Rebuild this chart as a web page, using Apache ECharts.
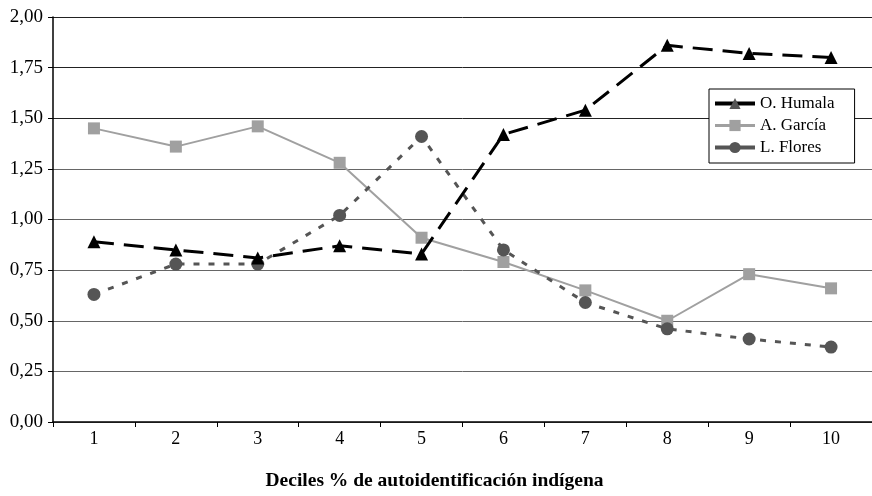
<!DOCTYPE html>
<html>
<head>
<meta charset="utf-8">
<script src="https://cdn.jsdelivr.net/npm/echarts@6/dist/echarts.min.js"></script>
<style>
html, body { margin: 0; padding: 0; background: #fff; }
#chart { width: 872px; height: 496px; }
</style>
</head>
<body>
<div id="chart"></div>
<script>
var deciles = ['1', '2', '3', '4', '5', '6', '7', '8', '9', '10'];
var humala = [0.89, 0.85, 0.81, 0.87, 0.83, 1.42, 1.54, 1.86, 1.82, 1.80];
var garcia = [1.45, 1.36, 1.46, 1.28, 0.91, 0.79, 0.65, 0.50, 0.73, 0.66];
var flores = [0.63, 0.78, 0.78, 1.02, 1.41, 0.85, 0.59, 0.46, 0.41, 0.37];

var serif = 'Liberation Serif';
var chart = echarts.init(document.getElementById('chart'));

var option = {
	backgroundColor : '#fff',
	animation : false,
	textStyle : { fontFamily : serif, color : '#000' },
	grid : {
		left : 53,
		top : 17,
		width : 826,
		height : 407
	},
	legend : {
		orient : 'vertical',
		left : 709,
		top : 89,
		backgroundColor : '#fff',
		borderColor : '#000',
		borderWidth : 1,
		borderRadius : 0,
		padding : [6, 20, 7, 4],
		itemGap : 5,
		itemWidth : 40,
		itemHeight : 14,
		textStyle : { fontFamily : serif, fontSize : 17, color : '#000' },
		data : [ {
			name : 'O. Humala',
			itemStyle : { color : '#555' },
			lineStyle : { color : '#000', width : 4, type : 'solid' }
		}, {
			name : 'A. García',
			lineStyle : { width : 3, type : 'solid' }
		}, {
			name : 'L. Flores',
			lineStyle : { width : 4, type : 'solid' }
		} ]
	},
	xAxis : {
		type : 'category',
		data : deciles,
		boundaryGap : true,
		name : 'Deciles % de autoidentificación indígena',
		nameLocation : 'middle',
		nameGap : 49,
		nameTextStyle : {
			fontFamily : serif,
			fontSize : 19.5,
			fontWeight : 'bold',
			color : '#000',
			padding : [0, 56, 0, 0]
		},
		axisLine : { lineStyle : { color : '#000', width : 1.5 } },
		axisTick : { show : true, length : 5, lineStyle : { color : '#000' } },
		axisLabel : { fontFamily : serif, fontSize : 18, color : '#000', margin : 8 },
		splitLine : { show : false }
	},
	yAxis : {
		type : 'value',
		min : 0,
		max : 2,
		interval : 0.25,
		axisLine : { show : true, lineStyle : { color : '#000', width : 1.5 } },
		axisTick : { show : true, length : 5, lineStyle : { color : '#000' } },
		axisLabel : {
			fontFamily : serif,
			fontSize : 19,
			color : '#000',
			margin : 10,
			formatter : function(v) {
				return v.toFixed(2).replace('.', ',');
			}
		},
		splitLine : {
			show : true,
			lineStyle : {
				color : ['#666', '#666', '#666', '#666', '#666', '#666', '#222', '#222', '#222'],
				width : 1
			}
		}
	},
	series : [ {
		name : 'O. Humala',
		type : 'line',
		data : humala,
		z : 4,
		symbol : 'triangle',
		symbolSize : 13,
		itemStyle : { color : '#000' },
		lineStyle : { color : '#000', width : 3, type : [20, 10] }
	}, {
		name : 'A. García',
		type : 'line',
		data : garcia,
		z : 2,
		symbol : 'rect',
		symbolSize : 12,
		itemStyle : { color : '#a0a0a0' },
		lineStyle : { color : '#a0a0a0', width : 2, type : 'solid' }
	}, {
		name : 'L. Flores',
		type : 'line',
		data : flores,
		z : 3,
		symbol : 'circle',
		symbolSize : 13,
		itemStyle : { color : '#555' },
		lineStyle : { color : '#555', width : 3, type : [6, 9] }
	} ]
};

chart.setOption(option);
</script>
</body>
</html>
